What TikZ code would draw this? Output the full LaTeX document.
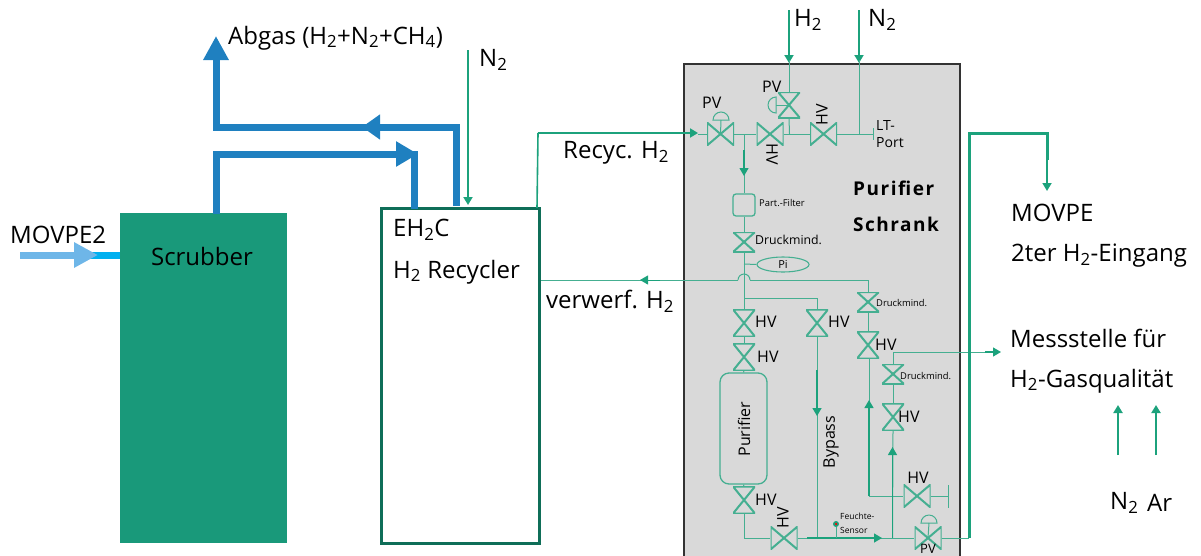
\documentclass[tikz,border=0pt]{standalone}
\usepackage{fontspec}
\setmainfont{Open Sans}
\usetikzlibrary{arrows.meta,shapes.geometric}

\definecolor{pipegreen}{HTML}{45AF91}
\definecolor{flowgreen}{HTML}{1CA27C}
\definecolor{boxgreen}{HTML}{19997A}
\definecolor{darkgreen}{HTML}{0F6E58}
\definecolor{gasblue}{HTML}{1F80C0}
\definecolor{lightblue}{HTML}{6EB6E8}
\definecolor{cyanblue}{HTML}{00B0F0}
\definecolor{cabinetgray}{HTML}{D9D9D9}

\tikzset{
  pipe/.style={draw=pipegreen,line width=1pt},
  flow/.style={draw=flowgreen,line width=1.8pt,-{Triangle[length=8pt,width=9pt]}},
  feed/.style={draw=flowgreen,line width=3pt},
  gas/.style={draw=gasblue,line width=7pt},
  gashead/.style={draw=gasblue,line width=7pt,-{Triangle[length=24pt,width=24pt]}},
  hvalve/.style={inner sep=0pt,minimum width=27pt,minimum height=23pt,
    path picture={\draw[pipegreen,line width=2pt]
      (path picture bounding box.north west) -- (path picture bounding box.south east)
      -- (path picture bounding box.north east) -- (path picture bounding box.south west) -- cycle;}},
  vvalve/.style={inner sep=0pt,minimum width=22pt,minimum height=27pt,
    path picture={\draw[pipegreen,line width=2pt]
      (path picture bounding box.north west) -- (path picture bounding box.north east)
      -- (path picture bounding box.south west) -- (path picture bounding box.south east) -- cycle;}},
  big/.style={inner sep=0pt,anchor=west,font=\fontsize{24}{28}\selectfont},
  mid/.style={inner sep=0pt,anchor=west,font=\fontsize{16}{18}\selectfont},
  small/.style={inner sep=0pt,anchor=west,font=\fontsize{12.3}{14}\selectfont},
  tiny/.style={inner sep=0pt,anchor=west,font=\fontsize{9.4}{11}\selectfont},
  cab/.style={inner sep=0pt,anchor=west,font=\bfseries\fontsize{19}{22}\selectfont\addfontfeature{LetterSpace=8}},
}

\begin{document}
\begin{tikzpicture}[x=1pt,y=-1pt]
  \useasboundingbox (0,0) rectangle (1201,555);

  % boxes
  \node[fill=boxgreen,minimum width=167pt,minimum height=330pt,inner sep=0pt] (scrubber) at (203.5,378) {};
  \node[draw=darkgreen,line width=3pt,fill=white,minimum width=158pt,minimum height=335pt,inner sep=0pt] (recycler) at (460.5,375.5) {};
  \node[draw=black!80,line width=1.5pt,fill=cabinetgray,minimum width=276pt,minimum height=520pt,inner sep=0pt] (schrank) at (822,324) {};

  % valves
  \node[hvalve] (pvIn)    at (720.5,134) {};
  \node[hvalve] (hvIn)    at (770,134) {};
  \node[hvalve] (hvLT)    at (823.5,134) {};
  \node[vvalve,minimum height=26pt] (pvH) at (789,105) {};
  \node[vvalve,minimum height=20pt] (dmA) at (744,242) {};
  \node[vvalve] (hvPa)    at (744,323) {};
  \node[vvalve] (hvPb)    at (744,357) {};
  \node[vvalve] (hvPc)    at (744,500) {};
  \node[vvalve] (hvBy)    at (817,323) {};
  \node[vvalve,minimum height=20pt] (dmB) at (868,302) {};
  \node[vvalve] (hvR)     at (868,345) {};
  \node[vvalve,minimum height=20pt] (dmC) at (893,374) {};
  \node[vvalve] (hvS)     at (893,417) {};
  \node[hvalve] (hvOut)   at (784,538) {};
  \node[hvalve] (pvOut)   at (928,538) {};
  \node[hvalve] (hvEnd)   at (917,496) {};

  % other parts
  \node[draw=pipegreen,line width=1.3pt,rounded corners=3pt,minimum width=22pt,minimum height=22pt,inner sep=0pt] (filter) at (744,205) {};
  \node[ellipse,draw=pipegreen,line width=1.1pt,minimum width=52pt,minimum height=15pt,inner sep=0pt,font=\fontsize{11}{12}\selectfont] (pi) at (783,264.5) {Pi};
  \node[draw=pipegreen,line width=1.3pt,rounded corners=9pt,minimum width=47pt,minimum height=111pt,inner sep=0pt] (purifier) at (743.5,428.5) {};
  \node[circle,fill=flowgreen,minimum size=6pt,inner sep=0pt] (sensor) at (836,524) {};
  \node[circle,fill=red,minimum size=2.5pt,inner sep=0pt] (sensordot) at (836,524) {};

  \coordinate (teeIn) at (744,134);
  \coordinate (teeH) at (789.5,134);
  \coordinate (teeN) at (859,134);
  \coordinate (ltEnd) at (873,134);
  \coordinate (teeBy) at (744,298);
  \coordinate (hopL) at (738,280);
  \coordinate (hopR) at (750,280);
  \coordinate (lineBy) at (817,538);
  \coordinate (lineS) at (892.5,538);
  \coordinate (endBar) at (948,496);
  \coordinate (turnR) at (869,496);
  \coordinate (turnOut) at (969,538);

  % gas lines outside
  \draw[gashead] (216,127) -- (216,36);
  \draw[gas] (456,206) -- (456,127) -- (212.5,127);
  \draw[gas,-{Triangle[length=18pt,width=24pt]}] (456,127) -- (362,127);
  \draw[gas] (216,214) -- (216,154) -- (418,154);
  \draw[gashead,-{Triangle[length=22pt,width=24pt]}] (216,154) -- (418,154);
  \draw[gas] (414,154) -- (414,209);
  \draw[draw=cyanblue,line width=7pt] (90,255) -- (scrubber.west |- 0,255);
  \draw[draw=lightblue,line width=7pt,-{Triangle[length=24pt,width=24pt]}] (20,255) -- (98,255);

  % feeds from outside
  \draw[flow] (468,50) -- (468,205);
  \draw[flow] (789,10) -- (789,63);
  \draw[flow] (859,10) -- (859,63);
  \draw[flow,line width=2.4pt] (1118,455) -- (1118,405);
  \draw[flow,line width=2.4pt] (1156,455) -- (1156,405);

  % recycler links
  \draw[draw=flowgreen,line width=1.6pt] (537,208) -- (538,133);
  \draw[feed,line width=2.6pt] (538,133) -- (690,133);
  \draw[flow] (685,133) -- (698,133);
  \draw[pipe] (698,134) -- (pvIn.west);
  \draw[pipe] (recycler.east |- 0,280) -- (hopL);
  \draw[flow,line width=1pt] (660,280) -- (640,280);

  % pipes in the cabinet
  \draw[pipe] (789,60) -- (pvH.north);
  \draw[pipe] (pvH.south) -- (teeH);
  \draw[pipe] (859,60) -- (teeN);
  \draw[pipe] (pvIn.east) -- (hvIn.west);
  \draw[pipe] (hvIn.east) -- (hvLT.west);
  \draw[pipe] (hvLT.east) -- (ltEnd);
  \draw[pipe] (873,128) -- (873,140);
  \draw[pipe] (teeIn) -- (filter.north);
  \draw[flow,line width=1.1pt] (744,150) -- (744,176);
  \draw[pipe] (filter.south) -- (dmA.north);
  \draw[pipe] (dmA.south) -- (hvPa.north);
  \draw[pipe] (744,264) -- (pi.west);
  \draw[pipe] (hopL) arc[start angle=180,end angle=0,radius=6pt];
  \draw[pipe] (hopR) -| (dmB.north);
  \draw[pipe] (teeBy) -| (hvBy.north);
  \draw[pipe] (hvPa.south) -- (hvPb.north);
  \draw[pipe] (hvPb.south) -- (purifier.north);
  \draw[pipe] (purifier.south) -- (hvPc.north);
  \draw[pipe] (hvPc.south) |- (hvOut.west);
  \draw[pipe] (hvBy.south) -- (lineBy);
  \draw[flow,line width=1.3pt] (817,370) -- (817,416);
  \draw[pipe] (dmB.south) -- (hvR.north);
  \draw[pipe] (869,359) -- (turnR);
  \draw[flow,line width=1.3pt] (869,496) -- (869,400);
  \draw[pipe] (turnR) -- (hvEnd.west);
  \draw[pipe] (hvEnd.east) -- (endBar);
  \draw[pipe] (948,485) -- (948,508);
  \draw[pipe] (hvOut.east) -- (pvOut.west);
  \draw[flow,line width=1.3pt] (807,538) -- (882,538);
  \draw[pipe] (pvOut.east) -- (turnOut);
  \draw[pipe] (lineS) -- (hvS.south);
  \draw[flow,line width=1.1pt] (892.5,538) -- (892.5,447);
  \draw[pipe] (hvS.north) -- (dmC.south);
  \draw[pipe] (dmC.north) |- (990,352);
  \draw[flow,line width=1.1pt] (985,352) -- (1001,352);
  \draw[pipe] (sensor.south) -- (836,538);

  % actuators
  \draw[pipe] (pvIn.center) -- (721,120);
  \draw[pipe] (713,120) arc[start angle=180,end angle=0,radius=8pt] -- cycle;
  \draw[pipe] (pvH.center) -- (776,105);
  \draw[pipe] (776,97) arc[start angle=90,end angle=270,radius=8pt] -- cycle;
  \draw[pipe] (pvOut.center) -- (929,523);
  \draw[pipe] (921,523) arc[start angle=180,end angle=0,radius=8pt] -- cycle;

  % feed out of the cabinet
  \draw[feed] (turnOut) -- (969,133) -- (1047,133) -- (1047,160);
  \draw[flow] (1047,160) -- (1047,191);

  % labels
  \node[big] (lAbgas) at (228,38) {Abgas (H\textsubscript{2}+N\textsubscript{2}+CH\textsubscript{4})};
  \node[big] (lNa) at (479,60) {N\textsubscript{2}};
  \node[big] (lMovpeTwo) at (10,235) {MOVPE2};
  \node[big,anchor=center] (lScrubber) at (202,256) {Scrubber};
  \node[big] (lEh) at (393,230) {EH\textsubscript{2}C};
  \node[big] (lRec) at (393,272) {H\textsubscript{2} Recycler};
  \node[big] (lRecyc) at (563,153) {Recyc. H\textsubscript{2}};
  \node[big] (lVerw) at (546,301) {verwerf. H\textsubscript{2}};
  \node[big] (lHb) at (794,20) {H\textsubscript{2}};
  \node[big] (lNb) at (868,20) {N\textsubscript{2}};
  \node[big] (lMovpe) at (1011,213) {MOVPE};
  \node[big] (lEin) at (1011,256) {2ter H\textsubscript{2}-Eingang};
  \node[big] (lMess) at (1010,338) {Messstelle für};
  \node[big] (lQual) at (1010,381) {H\textsubscript{2}-Gasqualität};
  \node[big] (lNc) at (1110,503) {N\textsubscript{2}};
  \node[big] (lAr) at (1147,503) {Ar};
  \node[cab] (lPur) at (853,188) {Purifier};
  \node[cab] (lSchr) at (853,224) {Schrank};

  \begin{scope}[every node/.style={mid}]
    \node (lPVa) at (702,103) {PV};
    \node (lPVb) at (762,87) {PV};
    \node (lHVa) at (755,322) {HV};
    \node (lHVb) at (757,357) {HV};
    \node (lHVc) at (755,500) {HV};
    \node (lHVd) at (828,322) {HV};
    \node (lHVe) at (875,345) {HV};
    \node (lHVf) at (898,417) {HV};
    \node[anchor=center] (lHVg) at (918,478) {HV};
    \node[anchor=center,font=\fontsize{13}{15}\selectfont] (lPVc) at (928,548.5) {PV};
    \node[anchor=center,rotate=-90] (lHVh) at (772,154) {HV};
    \node[anchor=center,rotate=90] (lHVi) at (822,115) {HV};
    \node[anchor=center,rotate=90] (lHVj) at (783,518) {HV};
    \node[anchor=center,rotate=90] (lBypass) at (831,442) {Bypass};
    \node[anchor=center,rotate=90] (lPurifier) at (744,429) {Purifier};
  \end{scope}

  \node[small] (lDa) at (755,240) {Druckmind.};
  \node[tiny] (lDb) at (876,303) {Druckmind.};
  \node[tiny] (lDc) at (900,376) {Druckmind.};
  \node[tiny] (lFilter) at (759,203) {Part.-Filter};
  \node[tiny,font=\fontsize{8.5}{10}\selectfont] (lFa) at (840,516) {Feuchte-};
  \node[tiny,font=\fontsize{8.5}{10}\selectfont] (lFb) at (840,530) {Sensor};
  \node[small,font=\fontsize{14}{16}\selectfont] (lLTa) at (876,125) {LT-};
  \node[small,font=\fontsize{14}{16}\selectfont] (lLTb) at (876,143) {Port};
\end{tikzpicture}
\end{document}
